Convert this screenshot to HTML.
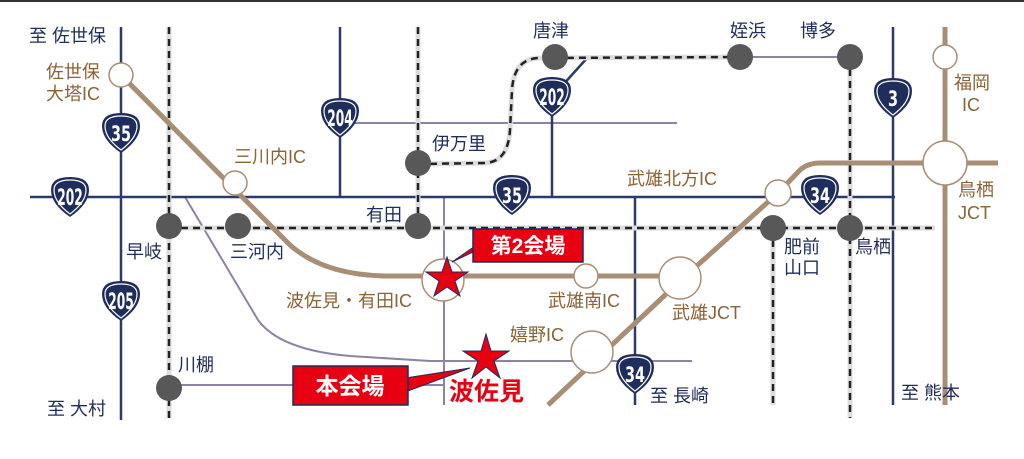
<!DOCTYPE html>
<html><head><meta charset="utf-8"><style>
html,body{margin:0;padding:0;background:#fff;}
svg{display:block;}
text{font-family:"Liberation Sans","Noto Sans CJK JP",sans-serif;}
.n{fill:#1f2d5c;font-size:18px;}
.b{fill:#8b6234;font-size:18px;}
.sh{fill:#fff;font-size:16px;font-weight:bold;font-family:"DejaVu Sans Condensed","Liberation Sans Narrow","Liberation Sans",sans-serif;}
</style></head><body>
<svg width="1024" height="459" viewBox="0 0 1024 459" xmlns="http://www.w3.org/2000/svg">
<defs>
<g id="shield">
<path d="M-19,-7 Q-19,-20 0,-20 Q19,-20 19,-7 Q19,7 0,20 Q-19,7 -19,-7Z" fill="#1f2d5c"/>
<path d="M-16,-7 Q-16,-17 0,-17 Q16,-17 16,-7 Q16,5 0,17 Q-16,5 -16,-7Z" fill="none" stroke="#fff" stroke-width="1.2"/>
</g>
<g id="st"><circle r="13" fill="#585858"/></g>
</defs>
<rect x="0" y="0" width="1024" height="2" fill="#333"/>

<g stroke="#8e82a6" stroke-width="2" fill="none">
<line x1="355" y1="123" x2="677" y2="123"/>
<path d="M185,197 L258,320 Q280,350 350,356 L430,361 L692,361"/>
<line x1="444" y1="197" x2="444" y2="405"/>
<line x1="169" y1="385" x2="444" y2="385"/>
<line x1="740" y1="57" x2="850" y2="57"/>
</g>

<g stroke="#2b3a6b" stroke-width="2.5" fill="none">
<line x1="121" y1="27" x2="121" y2="420"/>
<line x1="30" y1="197" x2="895" y2="197"/>
<line x1="340" y1="27" x2="340" y2="197"/>
<line x1="552" y1="97" x2="552" y2="197"/>
<line x1="552" y1="97" x2="588" y2="57"/>
<line x1="635" y1="197" x2="635" y2="405"/>
<line x1="893" y1="27" x2="893" y2="405"/>
</g>

<g fill="none">
<g stroke="#ddd" stroke-width="5">
<line x1="169" y1="27" x2="169" y2="418"/>
<line x1="169" y1="228" x2="935" y2="228"/>
<line x1="418" y1="27" x2="418" y2="228"/>
<path d="M418,164 L485,163 Q508,162 510,130 L512,90 Q514,58 540,58 L740,57"/>
<line x1="850" y1="57" x2="850" y2="418"/>
<line x1="773" y1="228" x2="773" y2="405"/>
</g>
<g stroke="#222" stroke-width="2.5" stroke-dasharray="7,5">
<line x1="169" y1="27" x2="169" y2="418"/>
<line x1="169" y1="228" x2="935" y2="228"/>
<line x1="418" y1="27" x2="418" y2="228"/>
<path d="M418,164 L485,163 Q508,162 510,130 L512,90 Q514,58 540,58 L740,57"/>
<line x1="850" y1="57" x2="850" y2="418"/>
<line x1="773" y1="228" x2="773" y2="405"/>
</g>
</g>

<g stroke="#a88e75" stroke-width="5" fill="none">
<path d="M121,75 L290,245 Q325,276 390,276 L680,276"/>
<path d="M548,405 L680,281 L778,193 L800,170 Q808,163 820,163 L998,163"/>
<line x1="945" y1="27" x2="945" y2="405"/>
</g>
<g fill="#fff" stroke="#a88e75" stroke-width="1.5">
<circle cx="121" cy="75" r="12"/>
<circle cx="235" cy="183" r="12"/>
<circle cx="443" cy="280" r="21"/>
<circle cx="586" cy="276" r="12"/>
<circle cx="680" cy="278" r="21"/>
<circle cx="592" cy="352" r="21"/>
<circle cx="778" cy="193" r="13"/>
<circle cx="945" cy="57" r="12"/>
<circle cx="945" cy="163" r="22"/>
</g>

<use href="#st" x="169" y="226"/>
<use href="#st" x="169" y="388"/>
<use href="#st" x="238" y="226"/>
<use href="#st" x="418" y="226"/>
<use href="#st" x="418" y="163"/>
<use href="#st" x="555" y="57"/>
<use href="#st" x="740" y="57"/>
<use href="#st" x="850" y="57"/>
<use href="#st" x="773" y="228"/>
<use href="#st" x="850" y="228"/>

<use href="#shield" x="121" y="133"/><text class="sh" transform="translate(121,141) scale(1,1.35)" text-anchor="middle">35</text>
<use href="#shield" x="70" y="197"/><text class="sh" transform="translate(70,205) scale(0.85,1.4)" text-anchor="middle">202</text>
<use href="#shield" x="340" y="118"/><text class="sh" transform="translate(340,126) scale(0.85,1.4)" text-anchor="middle">204</text>
<use href="#shield" x="552" y="97"/><text class="sh" transform="translate(552,105) scale(0.85,1.4)" text-anchor="middle">202</text>
<use href="#shield" x="512" y="195"/><text class="sh" transform="translate(512,203) scale(1,1.35)" text-anchor="middle">35</text>
<use href="#shield" x="820" y="195"/><text class="sh" transform="translate(820,203) scale(1,1.35)" text-anchor="middle">34</text>
<use href="#shield" x="893" y="98"/><text class="sh" transform="translate(893,106) scale(1,1.35)" text-anchor="middle">3</text>
<use href="#shield" x="121" y="301"/><text class="sh" transform="translate(121,309) scale(0.85,1.4)" text-anchor="middle">205</text>
<use href="#shield" x="635" y="374"/><text class="sh" transform="translate(635,382) scale(1,1.35)" text-anchor="middle">34</text>

<text class="n" x="29" y="42">至 佐世保</text>
<text class="n" x="432" y="150">伊万里</text>
<text class="n" x="366" y="221">有田</text>
<text class="n" x="533" y="37">唐津</text>
<text class="n" x="730" y="37">姪浜</text>
<text class="n" x="800" y="37">博多</text>
<text class="n" x="126" y="258">早岐</text>
<text class="n" x="230" y="258">三河内</text>
<text class="n" x="178" y="371">川棚</text>
<text class="n" x="47" y="415">至 大村</text>
<text class="n" x="784" y="253">肥前</text>
<text class="n" x="784" y="274">山口</text>
<text class="n" x="855" y="253">鳥栖</text>
<text class="n" x="650" y="402">至 長崎</text>
<text class="n" x="901" y="399">至 熊本</text>

<text class="b" x="46" y="78">佐世保</text>
<text class="b" x="46" y="100">大塔IC</text>
<text class="b" x="234" y="163">三川内IC</text>
<text class="b" x="627" y="185">武雄北方IC</text>
<text class="b" x="954" y="89">福岡</text>
<text class="b" x="962" y="111">IC</text>
<text class="b" x="958" y="196">鳥栖</text>
<text class="b" x="958" y="219">JCT</text>
<text class="b" x="286" y="307">波佐見・有田IC</text>
<text class="b" x="548" y="307">武雄南IC</text>
<text class="b" x="672" y="319">武雄JCT</text>
<text class="b" x="510" y="341">嬉野IC</text>

<polygon points="478,244 490,244 452,262" fill="#e60012" stroke="#1f2d5c" stroke-width="1"/>
<rect x="473" y="229" width="110" height="33" fill="#e60012" stroke="#1f2d5c" stroke-width="1.5"/>
<text x="528" y="253" text-anchor="middle" fill="#fff" font-size="21" font-weight="bold">第2会場</text>
<polygon points="447,257 452,272 468,272 455,281 460,296 447,287 434,296 439,281 426,272 442,272" fill="#e60012" stroke="#1f2d5c" stroke-width="1"/>

<polygon points="405,378 405,392 470,368" fill="#e60012" stroke="#1f2d5c" stroke-width="1"/>
<rect x="293" y="366" width="115" height="39" fill="#e60012" stroke="#1f2d5c" stroke-width="1.5"/>
<text x="350" y="394" text-anchor="middle" fill="#fff" font-size="23" font-weight="bold">本会場</text>
<polygon points="486,334 491,351 509,351 494,361 500,378 486,367 472,378 478,361 463,351 481,351" fill="#e60012" stroke="#1f2d5c" stroke-width="1"/>
<text x="449" y="400" fill="#e60012" font-size="25" font-weight="bold">波佐見</text>
</svg>
</body></html>
